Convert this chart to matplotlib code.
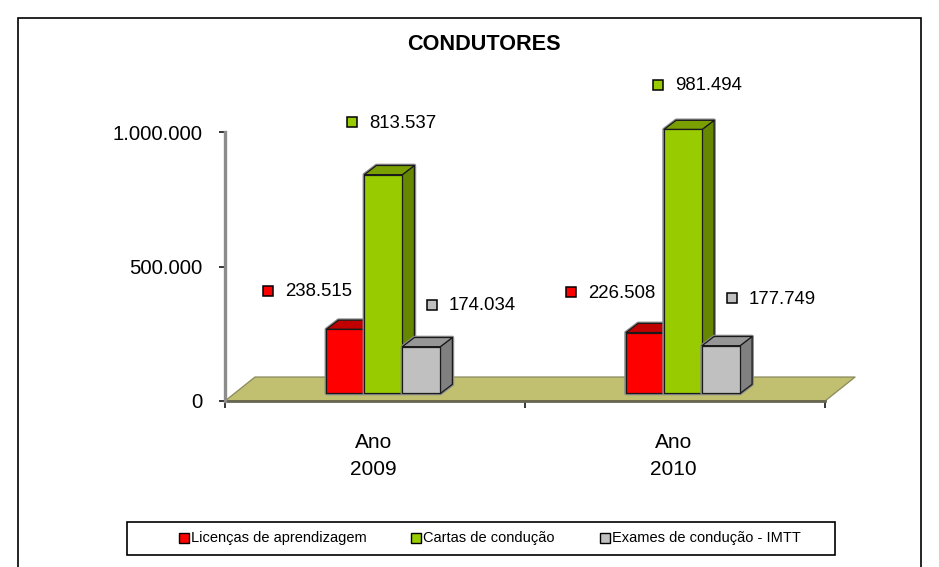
import matplotlib
matplotlib.use('Agg')
import matplotlib.pyplot as plt
from matplotlib.patches import Polygon, Rectangle

W, H = 939, 567

years = ['Ano\n2009', 'Ano\n2010']
series_names = ['Licenças de aprendizagem', 'Cartas de condução', 'Exames de condução - IMTT']
licencas = [238515, 226508]
cartas = [813537, 981494]
exames = [174034, 177749]
yticks = [0, 500000, 1000000]

front_colors = ['#ff0000', '#99cc00', '#c0c0c0']
top_colors = ['#c00000', '#7a9f00', '#969696']
side_colors = ['#a00000', '#668800', '#808080']

plt.rcParams['font.family'] = ['Liberation Sans', 'DejaVu Sans']


def fmt(v):
    return '{:,}'.format(v).replace(',', '.')


def fx(px):
    return px / W


def fy(py):
    return 1 - py / H


def poly(ax, pts, color, z, edge='#1a1a1a', lw=0.9):
    ax.add_patch(Polygon(pts, closed=True, facecolor=color, edgecolor=edge,
                         linewidth=lw, zorder=z, clip_on=False, joinstyle='round'))


def bar3d(ax, x, w, base, h, i, z):
    dx, dy = 0.04, 34000
    top = base + h
    # soft shadow round the box
    poly(ax, [(x, base), (x, top), (x + dx, top + dy), (x + w + dx, top + dy),
              (x + w + dx, base + dy), (x + w, base)],
         'none', z, edge='#8a8a8a', lw=2.6)
    poly(ax, [(x + w, base), (x + w + dx, base + dy), (x + w + dx, top + dy), (x + w, top)],
         side_colors[i], z + 0.1)
    poly(ax, [(x, top), (x + dx, top + dy), (x + w + dx, top + dy), (x + w, top)],
         top_colors[i], z + 0.1)
    poly(ax, [(x, base), (x + w, base), (x + w, top), (x, top)],
         front_colors[i], z + 0.2)


fig = plt.figure(figsize=(W / 100, H / 100), dpi=100)

# outer frame, bottom edge falls off the picture
fig.add_artist(Rectangle((fx(18), fy(600)), fx(921) - fx(18), fy(18) - fy(600),
                         transform=fig.transFigure, facecolor='white',
                         edgecolor='black', linewidth=1.2, zorder=-1))

ax = fig.add_axes([fx(225), fy(401), fx(825) - fx(225), fy(132) - fy(401)])
ax.patch.set_visible(False)
ax.set_xlim(0, 2)
ax.set_ylim(0, 1000000)
for s in ['top', 'right']:
    ax.spines[s].set_visible(False)
ax.spines['left'].set_color('#8c8c8c')
ax.spines['left'].set_linewidth(2.4)
ax.spines['bottom'].set_color('#66664f')
ax.spines['bottom'].set_linewidth(2.0)
ax.spines['bottom'].set_zorder(2)

ax.set_yticks(yticks)
ax.set_yticklabels([fmt(v) for v in yticks], fontsize=14.6)
ax.tick_params(axis='y', length=4.3, width=1.1, color='black', pad=12)
ax.set_xticks([0, 1, 2])
ax.set_xticklabels(['', '', ''])
ax.tick_params(axis='x', length=5, width=1.1, color='black')
ax.set_xticks([0.495, 1.495], minor=True)
ax.set_xticklabels(years, minor=True, fontsize=15, linespacing=1.55)
ax.tick_params(axis='x', which='minor', length=0, pad=22.7)

# floor
poly(ax, [(0, 0), (0.1, 89000), (2.1, 89000), (2, 0)], '#c1c071', 1, edge='#8f8f60', lw=1.0)

bar_w = 38 / 300
base = 28000
for k, center in enumerate([0.528, 1.527]):
    vals = [licencas[k], cartas[k], exames[k]]
    left = center - 1.5 * bar_w
    for i in [0, 1, 2]:
        bar3d(ax, left + i * bar_w, bar_w, base, vals[i], i, 3 + i)

# value labels with their colour keys, placed where the reference has them
label_pos = [[(268, 291), (352, 122), (432, 305)],
             [(571, 292), (658, 85), (732, 298)]]
for k, vals in enumerate(zip(licencas, cartas, exames)):
    for i, v in enumerate(vals):
        kx, ky = label_pos[k][i]
        fig.add_artist(Rectangle((fx(kx - 5), fy(ky + 5)), 10 / W, 10 / H,
                                 transform=fig.transFigure, facecolor=front_colors[i],
                                 edgecolor='black', linewidth=1.1))
        fig.text(fx(kx + 17), fy(ky + 1), fmt(v), fontsize=13.4, ha='left', va='center')

fig.text(fx(484), fy(44), 'CONDUTORES', fontsize=15.6, fontweight='bold', ha='center', va='center')

# legend box
fig.add_artist(Rectangle((fx(127), fy(555)), fx(835) - fx(127), fy(522) - fy(555),
                         transform=fig.transFigure, facecolor='white',
                         edgecolor='black', linewidth=1.2))
leg_pos = [179, 411, 600]
for i, name in enumerate(series_names):
    fig.add_artist(Rectangle((fx(leg_pos[i]), fy(543)), 10 / W, 10 / H,
                             transform=fig.transFigure, facecolor=front_colors[i],
                             edgecolor='black', linewidth=1.0))
    fig.text(fx(leg_pos[i] + 12), fy(538), name, fontsize=10.5, ha='left', va='center')

fig.savefig('out.png', dpi=100)
